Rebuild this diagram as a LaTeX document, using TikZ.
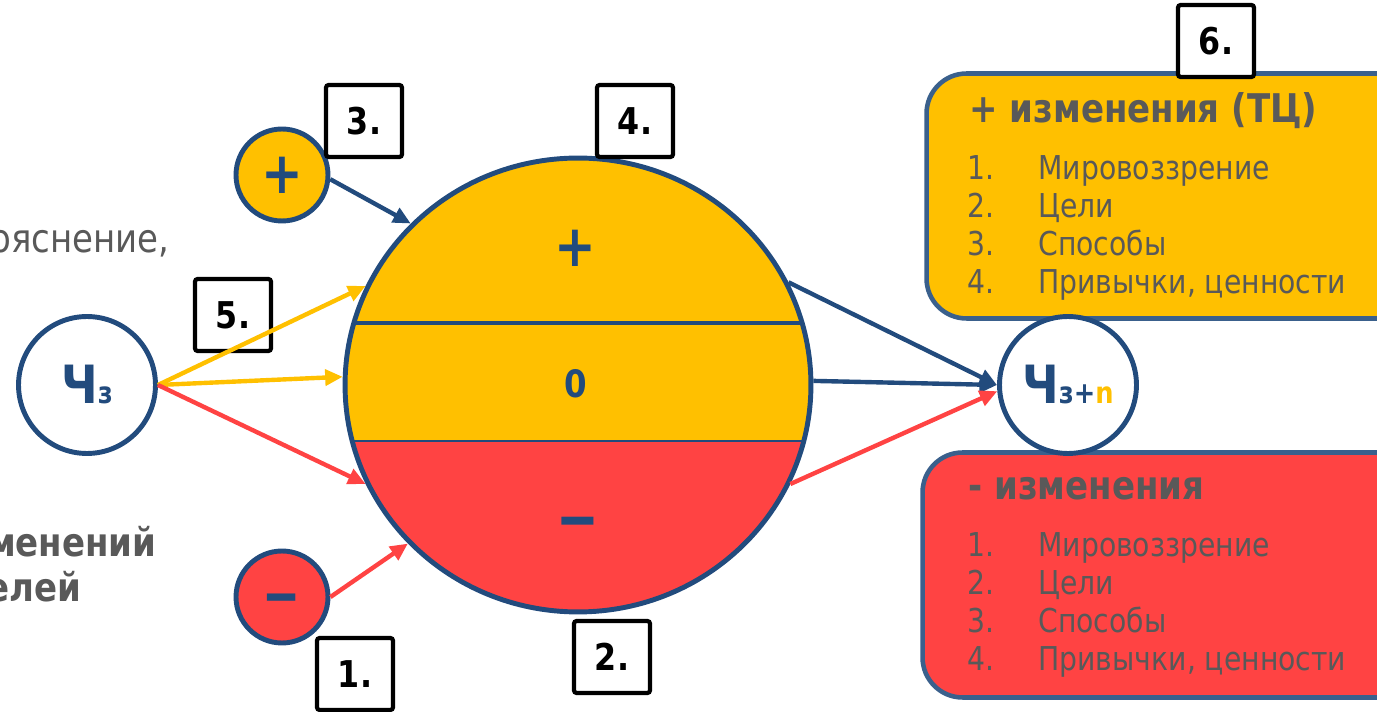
\documentclass[tikz,border=0pt]{standalone}
\usepackage{fontspec}
\setmainfont[FakeStretch=0.86]{DejaVu Sans}
\usetikzlibrary{shapes.geometric,arrows.meta}
\definecolor{slatenavy}{RGB}{34,75,125}

\begin{document}
\begin{tikzpicture}[x=0.02cm, y=-0.02cm,
    link/.style={line width=2.5pt, -{Triangle[length=10pt,width=9pt]}},
    person/.style={circle, draw=slatenavy, line width=2.8pt, fill=white, minimum size=2.74cm, inner sep=0pt, text=slatenavy, font=\bfseries},
    signcircle/.style={circle, draw=slatenavy, line width=2.8pt, minimum size=1.84cm, inner sep=0pt, text=slatenavy, font=\fontsize{33}{33}\selectfont\bfseries},
    numbox/.style={draw=black, line width=2.4pt, rounded corners=1.5pt, fill=white, minimum width=1.52cm, minimum height=1.44cm, inner sep=0pt, font=\fontsize{21}{21}\selectfont\bfseries},
    listbox/.style={draw=boxblue, line width=2.6pt, rounded corners=0.8cm, minimum width=9.9cm, minimum height=4.9cm},
    boxtitle/.style={anchor=base west, inner sep=0pt, text=textgray, font=\fontsize{22.5}{22.5}\selectfont\bfseries},
    boxitem/.style={anchor=base west, inner sep=0pt, text=textgray, font=\fontsize{18.7}{18.7}\selectfont}]
    % Define colors
    \definecolor{zonegold}{RGB}{255,192,0}   % Gold
    \definecolor{zonered}{RGB}{255,67,67}    % Red
    \definecolor{boxblue}{RGB}{58,96,140}    % Box outline
    \definecolor{textgray}{RGB}{89,89,89}    % Gray text

    \useasboundingbox (0,0) rectangle (1377,712);
    \clip (0,0) rectangle (1377,712);

    % Cut-off text on the left
    \node[anchor=base east, inner sep=0pt, text=textgray, font=\fontsize{22.5}{22.5}\selectfont] (clarify) at (170,253) {прояснение,};
    \node[anchor=base east, inner sep=0pt, text=textgray, font=\fontsize{22.5}{22.5}\selectfont\bfseries] (changes) at (157,557) {изменений};
    \node[anchor=base east, inner sep=0pt, text=textgray, font=\fontsize{22.5}{22.5}\selectfont\bfseries] (goals) at (82,602) {целей};

    % Boxes with the lists of changes
    \node[listbox, fill=zonegold] (plusbox) at (1174,196) {};
    \node[listbox, fill=zonered] (minusbox) at (1170,575) {};
    \node[boxtitle] (plustitle) at (969,123) {+ изменения (ТЦ)};
    \node[boxtitle] (minustitle) at (968,500) {- изменения};
    \foreach \i/\item in {1/Мировоззрение, 2/Цели, 3/Способы, 4/{Привычки, ценности}} {
        \node[boxitem] (pnum\i) at (967,{142.3+37.7*\i}) {\i.};
        \node[boxitem] (pitem\i) at (1038,{142.3+37.7*\i}) {\item};
        \node[boxitem] (mnum\i) at (967,{519.3+37.7*\i}) {\i.};
        \node[boxitem] (mitem\i) at (1038,{519.3+37.7*\i}) {\item};
    }

    % Central ellipse with three zones
    \begin{scope}
        \clip (578,385) ellipse [x radius=4.66cm, y radius=4.54cm];
        \fill[zonegold] (340,150) rectangle (820,441);
        \fill[zonered] (340,441) rectangle (820,620);
        \draw[slatenavy, line width=2.3pt] (340,323) -- (820,323);
        \draw[slatenavy, line width=1.5pt] (340,441) -- (820,441);
    \end{scope}
    \node[ellipse, draw=slatenavy, line width=2.8pt, minimum width=9.32cm, minimum height=9.08cm, inner sep=0pt] (core) at (578,385) {};
    \node[text=slatenavy, font=\fontsize{33}{33}\selectfont\bfseries] (zplus) at (575,248) {+};
    \node[text=slatenavy, font=\fontsize{21.5}{21.5}\selectfont\bfseries] (zzero) at (576,384) {0};
    \node[text=slatenavy, font=\fontsize{36}{36}\selectfont\bfseries] (zminus) at (578,528) {\scalebox{1.5}[1]{–}};

    % Sign circles and persons
    \node[signcircle, fill=zonegold] (plus) at (282,175) {+};
    \node[signcircle, fill=zonered, font=\fontsize{33}{33}\selectfont\bfseries] (minus) at (282,597) {};
    \node[text=slatenavy, font=\fontsize{33}{33}\selectfont\bfseries] (minussign) at (282,604) {\scalebox{1.45}[1]{–}};
    \node[person] (src) at (87,385) {{\fontsize{30}{30}\selectfont Ч}{\fontsize{17}{17}\selectfont з}};
    \node[person] (res) at (1068,385) {{\fontsize{30}{30}\selectfont Ч}{\fontsize{17}{17}\selectfont з+\textcolor{zonegold}{n}}};

    % Numbered boxes
    \foreach \num/\pos in {1/{355,674}, 2/{612,657}, 3/{364,121}, 4/{635,121}, 5/{233,315}, 6/{1216,41}} {
        \node[numbox] (n\num) at (\pos) {\num.};
    }

    % Arrows into the ellipse
    \draw[link, slatenavy] (plus.-5) -- (core.136);
    \draw[link, zonered] (minus.east) -- (core.223);
    \draw[link, zonegold] (src.east) -- (core.155);
    \draw[link, zonegold] (src.east) -- (core.178);
    \draw[link, zonered] (src.east) -- (core.205);
    % Arrows out of the ellipse
    \draw[link, slatenavy] (core.26) -- (res.west);
    \draw[link, slatenavy] (core.1) -- (res.west);
    \draw[link, zonered] (core.-25) -- (res.185);
\end{tikzpicture}
\end{document}
